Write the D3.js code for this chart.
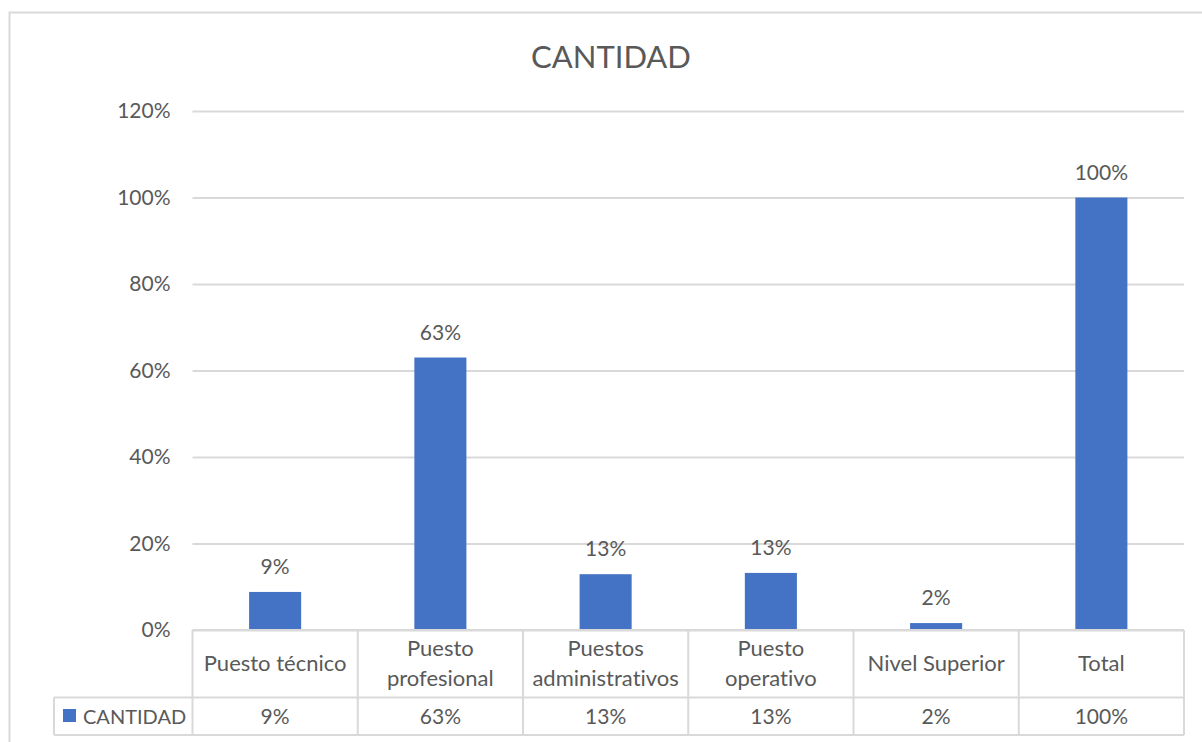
<!DOCTYPE html>
<html>
<head>
<meta charset="utf-8">
<script src="https://cdn.jsdelivr.net/npm/d3@7"></script>
<style>
  body { margin: 0; background: #fff; }
  text { font-family: Lato, "Open Sans", sans-serif; fill: #595959; font-variant-ligatures: none; font-feature-settings: "liga" 0; }
</style>
</head>
<body>
<div id="chart"></div>
<script>
const width = 1202;
const height = 742;

const categories = [["Puesto técnico"], ["Puesto", "profesional"], ["Puestos", "administrativos"], ["Puesto", "operativo"], ["Nivel Superior"], ["Total"]];
const values = [0.088, 0.63, 0.129, 0.132, 0.016, 1.00];
const yTicks = [0, 0.2, 0.4, 0.6, 0.8, 1.0, 1.2];
const seriesName = "CANTIDAD";

const blue = "#4472c4";
const gridColor = "#d9d9d9";
const pct = d3.format(".0%");

const svg = d3.select("#chart")
  .append("svg")
  .attr("width", width)
  .attr("height", height);

// chart area border
svg.append("rect")
  .attr("x", 9.5).attr("y", 12.5)
  .attr("width", 1210).attr("height", 760)
  .attr("fill", "none")
  .attr("stroke", gridColor)
  .attr("stroke-width", 2);

svg.append("text")
  .attr("x", 611).attr("y", 68)
  .attr("text-anchor", "middle")
  .attr("font-size", 31)
  .text("CANTIDAD");

const x = d3.scaleBand()
  .domain(d3.range(categories.length))
  .range([192.5, 1184]);

const y = d3.scaleLinear()
  .domain([0, 1.2])
  .range([630, 111]);

// y axis with gridlines
const yAxis = svg.append("g")
  .attr("transform", "translate(192.5,0)")
  .call(d3.axisLeft(y).tickValues(yTicks).tickFormat(pct).tickSize(-(1184 - 192.5)).tickPadding(22));
yAxis.select(".domain").remove();
yAxis.selectAll(".tick line").attr("stroke", gridColor).attr("stroke-width", 2);
yAxis.selectAll(".tick text")
  .attr("font-size", 21)
  .attr("font-family", "Lato, sans-serif")
  .attr("fill", "#595959");

// bars
const barW = x.bandwidth() * 0.315;
svg.append("g")
  .selectAll("rect")
  .data(values)
  .join("rect")
  .attr("x", (d, i) => x(i) + (x.bandwidth() - barW) / 2)
  .attr("y", d => y(d))
  .attr("width", barW)
  .attr("height", d => y(0) - y(d))
  .attr("fill", blue);

// data labels
svg.append("g")
  .selectAll("text")
  .data(values)
  .join("text")
  .attr("x", (d, i) => x(i) + x.bandwidth() / 2)
  .attr("y", d => y(d) - 18)
  .attr("text-anchor", "middle")
  .attr("font-size", 21)
  .text(d => pct(d));

// data table
const row1Top = 630, row1Bot = 697.5, row2Bot = 735;
const legendLeft = 54;
const table = svg.append("g")
  .attr("stroke", gridColor)
  .attr("stroke-width", 2);

table.append("line").attr("x1", 192.5).attr("x2", 1184).attr("y1", row1Top).attr("y2", row1Top);
table.append("line").attr("x1", legendLeft).attr("x2", 1184).attr("y1", row1Bot).attr("y2", row1Bot);
table.append("line").attr("x1", legendLeft).attr("x2", 1184).attr("y1", row2Bot).attr("y2", row2Bot);
table.append("line").attr("x1", legendLeft).attr("x2", legendLeft).attr("y1", row1Bot).attr("y2", row2Bot);
table.selectAll(".vline")
  .data(d3.range(categories.length + 1))
  .join("line")
  .attr("class", "vline")
  .attr("x1", i => i < categories.length ? x(i) : x.range()[1])
  .attr("x2", i => i < categories.length ? x(i) : x.range()[1])
  .attr("y1", row1Top)
  .attr("y2", row2Bot);

// category labels
const catText = svg.append("g")
  .selectAll("text")
  .data(categories)
  .join("text")
  .attr("text-anchor", "middle")
  .attr("font-size", 22)
  .attr("x", (d, i) => x(i) + x.bandwidth() / 2)
  .attr("y", d => d.length === 1 ? 671 : 656);
catText.selectAll("tspan")
  .data(d => d)
  .join("tspan")
  .attr("x", function() { return this.parentNode.getAttribute("x"); })
  .attr("dy", (d, i) => i === 0 ? 0 : 30)
  .text(d => d);

// value row
svg.append("g")
  .selectAll("text")
  .data(values)
  .join("text")
  .attr("x", (d, i) => x(i) + x.bandwidth() / 2)
  .attr("y", 724)
  .attr("text-anchor", "middle")
  .attr("font-size", 21)
  .text(d => pct(d));

// legend key
svg.append("rect")
  .attr("x", 63).attr("y", 709)
  .attr("width", 13).attr("height", 13)
  .attr("fill", blue);
svg.append("text")
  .attr("x", 83).attr("y", 724)
  .attr("font-size", 20)
  .text(seriesName);
</script>
</body>
</html>
